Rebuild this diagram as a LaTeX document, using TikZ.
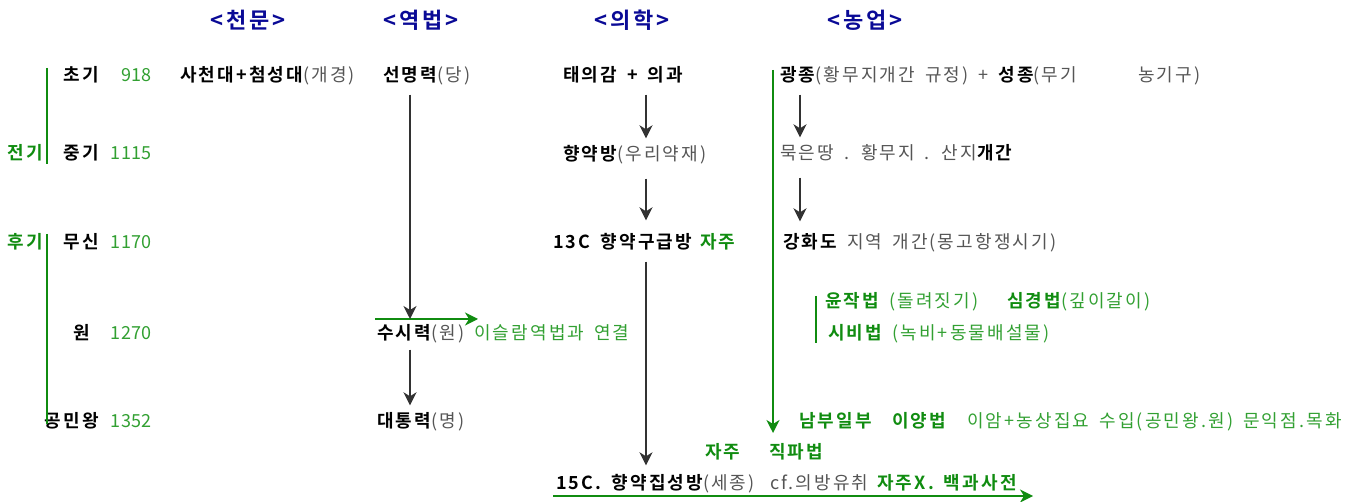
\documentclass[tikz,border=0pt]{standalone}
\usepackage{fontspec}
\setmainfont{Noto Sans CJK KR}[BoldFont={Noto Sans CJK KR Bold},LetterSpace=12,WordSpace=1.6]
\newfontfamily\yearfont{Noto Sans CJK KR}[LetterSpace=2]
\usetikzlibrary{arrows.meta,calc}

\definecolor{hdrblue}{RGB}{10,10,150}
\definecolor{darkgreen}{RGB}{16,140,16}
\definecolor{litegreen}{RGB}{50,160,50}
\definecolor{parengray}{RGB}{85,85,85}
\definecolor{arrowgray}{RGB}{50,50,50}

\newcommand{\gr}[1]{\textcolor{parengray}{\mdseries #1}}
\newcommand{\gn}[1]{\textcolor{litegreen}{\mdseries #1}}

\begin{document}
\begin{tikzpicture}[x=1pt,y=-1pt,
        every node/.style={inner sep=0pt, text height=15.5pt, text depth=1.5pt,
            font=\fontsize{18}{20}\selectfont},
        head/.style={font=\fontsize{22}{24}\selectfont\bfseries, text=hdrblue},
        era/.style={anchor=east, font=\fontsize{18}{20}\selectfont\bfseries, text=black},
        year/.style={anchor=east, font=\fontsize{18}{20}\yearfont, text=litegreen},
        term/.style={anchor=west, font=\fontsize{18}{20}\selectfont\bfseries, text=black},
        aside/.style={anchor=west, text=parengray},
        gterm/.style={anchor=west, font=\fontsize{18}{20}\selectfont\bfseries, text=darkgreen},
        gaside/.style={anchor=west, text=litegreen},
        arr/.style={-{Stealth[length=13pt,width=13pt,inset=4pt]}, line width=1.6pt,
            draw=arrowgray, shorten <=11pt, shorten >=7pt},
        garr/.style={-{Stealth[length=13pt,width=13pt,inset=4pt]}, line width=1.6pt, draw=darkgreen},
        gline/.style={line width=1.6pt, draw=darkgreen},
    ]
        \useasboundingbox (0,0) rectangle (1355,502);

        % Headers
        \node[head] (hchun) at (248,22) {<천문>};
        \node[head] (hyeok) at (421,22) {<역법>};
        \node[head] (hui) at (632,22) {<의학>};
        \node[head] (hnong) at (865,22) {<농업>};

        % Periods
        \node[era] (chogi) at (99,75) {초기};
        \node[year] (y918) at (152,75) {918};
        \node[era] (junggi) at (99,153) {중기};
        \node[year] (y1115) at (152,153) {1115};
        \node[era] (musin) at (99,242) {무신};
        \node[year] (y1170) at (152,242) {1170};
        \node[era, anchor=center] (won) at (82,333) {원};
        \node[year] (y1270) at (152,333) {1270};
        \node[era] (gongmin) at (99,421) {공민왕};
        \node[year] (y1352) at (152,421) {1352};
        \node[gterm, anchor=east] (jeongi) at (43,153) {전기};
        \node[gterm, anchor=east] (hugi) at (43,242) {후기};
        \coordinate (jeonT) at (47,68);
        \coordinate (jeonB) at (47,164);
        \coordinate (huT) at (47,234);
        \coordinate (huB) at (47,424);
        \draw[gline] (jeonT) -- (jeonB);
        \draw[gline] (huT) -- (huB);

        % Astronomy and calendar
        \node[term] (sacheon) at (180,75) {사천대+첨성대\gr{(개경)}};
        \node[term] (seonmyeong) at (383,75) {선명력\gr{(당)}};
        \node[term] (susi) at (377,333) {수시력\gr{(원)}};
        \node[gaside] (islam) at (474,333) {이슬람역법과 연결};
        \node[term] (daetong) at (377,421) {대통력\gr{(명)}};
        \coordinate (calx) at (410,0);
        \coordinate (islL) at (375,319);
        \coordinate (islR) at (478,319);
        \draw[garr] (islL) -- (islR);
        \draw[arr, shorten >=0pt] (seonmyeong.south -| calx) -- (islL -| calx);
        \draw[arr, shorten <=8pt] (susi.south -| calx) -- (daetong.north -| calx);

        % Medicine
        \node[term] (taeui) at (563,75) {태의감 + 의과};
        \node[term] (hyangyak) at (563,154) {향약방\gr{(우리약재)}};
        \node[term] (gugeup) at (553,242) {13C 향약구급방};
        \node[gterm] (jaju1) at (700,242) {자주};
        \node[term] (jipseong) at (556,482) {15C. 향약집성방\gr{(세종)}};
        \node[aside] (uibang) at (770,482) {cf.의방유취};
        \node[gterm] (baekgwa) at (877,482) {자주X. 백과사전};
        \coordinate (medx) at (646,0);
        \coordinate (baseL) at (553,496);
        \coordinate (baseR) at (1033,496);
        \draw[arr] (taeui.south -| medx) -- (hyangyak.north -| medx);
        \draw[arr, shorten <=16pt, shorten >=13pt] (hyangyak.south -| medx) -- (gugeup.north -| medx);
        \draw[arr, shorten >=8pt] (gugeup.south -| medx) -- (jipseong.north -| medx);
        \draw[garr] (baseL) -- (baseR);

        % Agriculture
        \node[term] (gwangjong) at (780,75) {광종\gr{(황무지개간 규정) + }성종\gr{(무기}};
        \node[aside] (nonggigu) at (1138,75) {농기구)};
        \node[aside] (mugeun) at (780,153) {묵은땅 . 황무지 . 산지\textcolor{black}{\bfseries 개간}};
        \node[term] (ganghwa) at (783,242) {강화도\gr{ 지역 개간(몽고항쟁시기)}};
        \node[gterm] (yunjak) at (825,301) {윤작법 \gn{(돌려짓기)}};
        \node[gterm] (simgyeong) at (1007,301) {심경법\gn{(깊이갈이)}};
        \node[gterm] (sibi) at (828,333) {시비법 \gn{(녹비+동물배설물)}};
        \node[gterm] (nambu) at (799,421) {남부일부};
        \node[gterm] (iyang) at (892,421) {이양법};
        \node[gaside] (iam) at (967,421) {이암+농상집요 수입(공민왕.원) 문익점.목화};
        \node[gterm] (jaju2) at (705,451) {자주};
        \node[gterm] (jikpa) at (769,451) {직파법};
        \coordinate (agx) at (800,0);
        \coordinate (agtop) at (773,70);
        \coordinate (agbot) at (773,433);
        \coordinate (farmT) at (816,296);
        \coordinate (farmB) at (816,343);
        \draw[garr] (agtop) -- (agbot);
        \draw[gline] (farmT) -- (farmB);
        \draw[arr] (gwangjong.south -| agx) -- (mugeun.north -| agx);
        \draw[arr, shorten <=16pt, shorten >=12pt] (mugeun.south -| agx) -- (ganghwa.north -| agx);
    \end{tikzpicture}
\end{document}
